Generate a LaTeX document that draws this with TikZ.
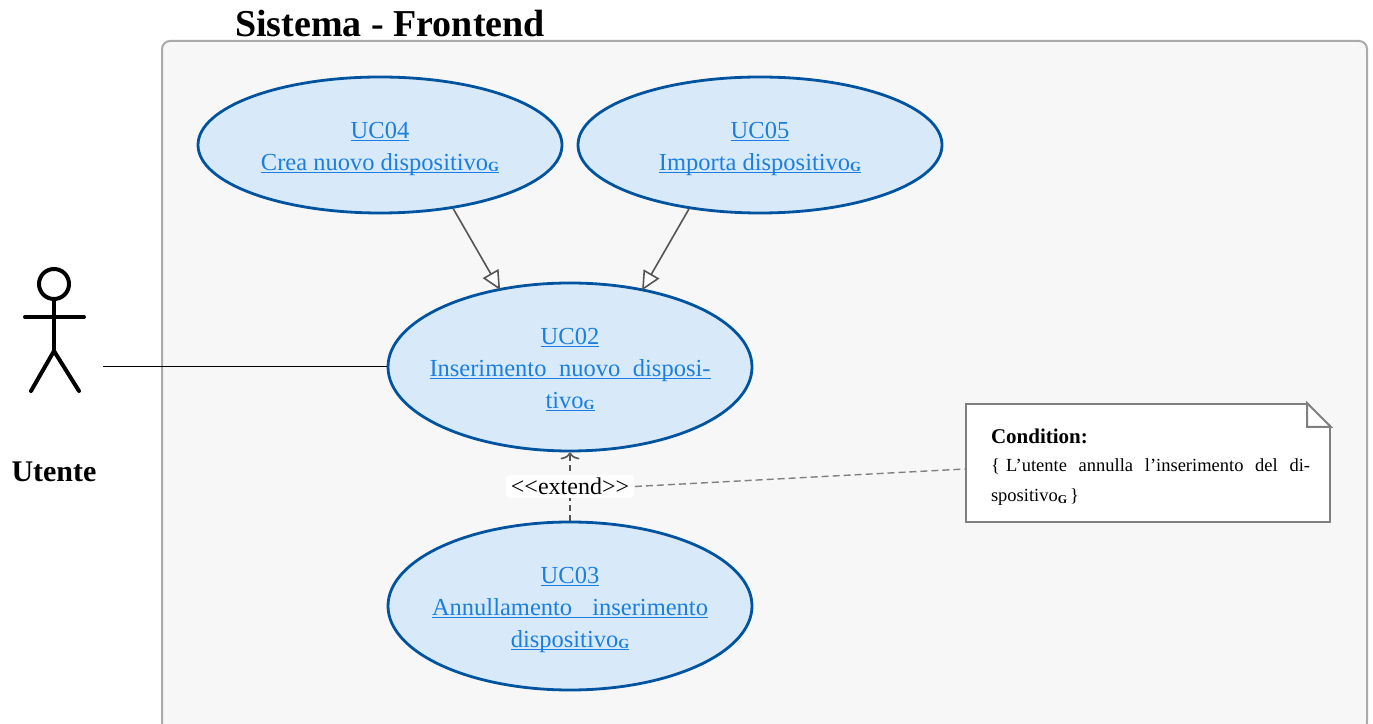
\documentclass[tikz,border=0pt]{standalone}
\usepackage{fontspec}
\setmainfont{Liberation Serif}
\usepackage{tikz}
\usetikzlibrary{shapes.geometric,arrows.meta}
\definecolor{ucfill}{HTML}{D8EAF9}
\definecolor{ucline}{HTML}{00539F}
\definecolor{uctext}{HTML}{1A7FE0}
\definecolor{sysfill}{HTML}{F7F7F7}
\definecolor{sysline}{HTML}{AAAAAA}
\definecolor{arrowgray}{HTML}{555555}
\definecolor{notegray}{HTML}{808080}
\newsavebox\ulinebox
\newcommand{\ucline}[1]{\sbox\ulinebox{#1}\rlap{\rule[-3pt]{\wd\ulinebox}{1.2pt}}\usebox\ulinebox}
\newcommand{\glossg}[1]{\raisebox{-1.5pt}{\fontsize{#1}{#1}\selectfont\bfseries G}}
\newcommand{\uclabel}[1]{\makebox[0pt]{\raisebox{-9pt}[0pt][0pt]{\begin{tabular}{@{}c@{}}#1\end{tabular}}}}
\tikzstyle{usecase} = [ellipse, minimum width=364pt, fill=ucfill, draw=ucline, line width=2.8pt, inner sep=0pt, text=uctext, font=\fontsize{24.5}{32}\selectfont]
\tikzstyle{system} = [rectangle, rounded corners=8pt, minimum width=1205pt, minimum height=690pt, fill=sysfill, draw=sysline, line width=2pt]
\tikzstyle{notebox} = [rectangle, minimum width=364pt, minimum height=118pt, text width=314pt, align=left, inner sep=0pt, fill=white, draw=notegray, line width=2pt, font=\fontsize{18.5}{30.5}\selectfont]
\tikzstyle{limb} = [line width=4pt, line cap=round]
\tikzstyle{gen} = [draw=arrowgray, line width=1.6pt, shorten >=-2pt, -{Triangle[length=19pt,width=18pt,fill=white,line width=1.6pt]}]
\tikzstyle{extendarrow} = [draw=arrowgray, line width=1.6pt, dash pattern=on 6pt off 4pt, -{Computer Modern Rightarrow[length=7pt,width=19pt,line width=1.6pt]}]
\tikzstyle{notelink} = [draw=notegray, line width=1.4pt, dash pattern=on 7pt off 4pt]

\begin{document}
\begin{tikzpicture}[x=1pt,y=1pt]
        \useasboundingbox (0,0) rectangle (1373,723);
        \node (sys) [system] at (764.5,337) {};
        \node (title) [anchor=base west, inner sep=0pt, font=\fontsize{38}{38}\selectfont\bfseries] at (235,686) {Sistema - Frontend};
        \node (uc04) [usecase, minimum height=136pt] at (380,578) {\uclabel{\ucline{UC04}\\ \ucline{Crea nuovo dispositivo\glossg{14}}}};
        \node (uc05) [usecase, minimum height=136pt] at (760,578) {\uclabel{\ucline{UC05}\\ \ucline{Importa dispositivo\glossg{14}}}};
        \node (uc02) [usecase, minimum height=168pt] at (570,356) {\uclabel{\ucline{UC02}\\ \ucline{\makebox[281pt][s]{Inserimento\hfill nuovo\hfill disposi-}}\\ \ucline{tivo\glossg{14}}}};
        \node (uc03) [usecase, minimum height=168pt] at (570,117) {\uclabel{\ucline{UC03}\\ \ucline{\makebox[276pt][s]{Annullamento\hfill inserimento}}\\ \ucline{dispositivo\glossg{14}}}};
        \node (note) [notebox] at (1148,260) {\rule{0pt}{20pt}\raisebox{-3pt}{\fontsize{21}{21}\selectfont\textbf{Condition:}}\\ \makebox[314pt][l]{\makebox[319pt][s]{\{ L’utente\hfill annulla\hfill l’inserimento\hfill del\hfill di-}}\\ spositivo\glossg{12}\,\}};
        % fold of the note
        \fill [sysfill] ([xshift=-24pt,yshift=1.5pt]note.north east) -- ([xshift=1.5pt,yshift=1.5pt]note.north east) -- ([xshift=1.5pt,yshift=-24pt]note.north east) -- cycle;
        \draw [draw=notegray, line width=2pt, fill=white] ([xshift=-24pt]note.north east) -- ([xshift=-24pt,yshift=-24pt]note.north east) -- ([yshift=-24pt]note.north east) -- cycle;
        % actor
        \node (head) [circle, draw, line width=4pt, minimum size=30pt, inner sep=0pt] at (54,439) {};
        \coordinate (hip) at (54,372);
        \coordinate (armleft) at (25,406);
        \coordinate (armright) at (84,406);
        \coordinate (footleft) at (31,332);
        \coordinate (footright) at (79,332);
        \coordinate (actorhand) at (103,356);
        \draw [limb] (head.south) -- (hip);
        \draw [limb] (armleft) -- (armright);
        \draw [limb] (footleft) -- (hip) -- (footright);
        \node (utente) [inner sep=0pt, font=\fontsize{30}{30}\selectfont\bfseries] at (54,251) {Utente};
        \draw [line width=1pt] (actorhand) -- (uc02.west);
        \draw [gen] (uc04.-41.7) -- (uc02.132.7);
        \draw [gen] (uc05.-138) -- (uc02.47.3);
        \draw [extendarrow] (uc03.north) -- node (extend) [fill=white, rounded corners=4pt, inner xsep=5pt, inner ysep=3pt, text=black, font=\fontsize{24}{24}\selectfont, solid] {<{}<extend>{}>} (uc02.south);
        \draw [notelink] (extend.east) -- ([yshift=-6pt]note.west |- note.center);
    \end{tikzpicture}
\end{document}
